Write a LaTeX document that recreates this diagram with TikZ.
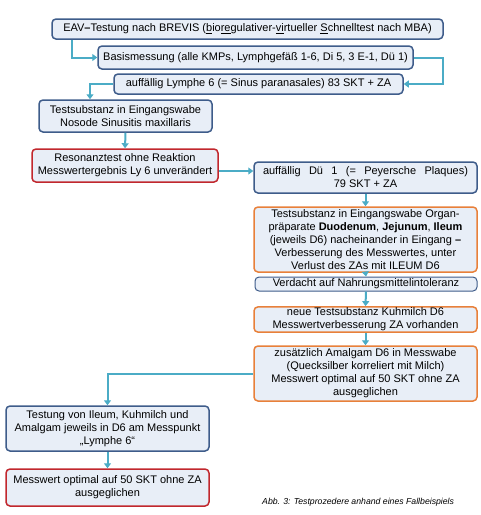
\documentclass[tikz,border=0pt]{standalone}
\usepackage{fontspec}
\setmainfont{Liberation Sans}
\usepackage{xcolor}
\usetikzlibrary{arrows.meta,positioning,calc}
\definecolor{boxblue}{HTML}{3E5C8A}
\definecolor{boxred}{HTML}{C1272D}
\definecolor{boxorange}{HTML}{E8803A}
\definecolor{boxfill}{HTML}{E8EEF7}
\definecolor{conncol}{HTML}{4BACC6}
\tikzset{
  stepbox/.style={draw=boxblue, fill=boxfill, line width=1.5pt, rounded corners=4pt,
    inner sep=1pt, align=center, font=\fontsize{11}{13}\selectfont},
  bluebox/.style={stepbox},
  redbox/.style={stepbox, draw=boxred},
  orangebox/.style={stepbox, draw=boxorange},
  conn/.style={draw=conncol, line width=2pt, -{Triangle[width=7pt,length=5pt]}}
}
\newcommand{\ul}[1]{\underline{#1}}
\begin{document}
\begin{tikzpicture}[x=1pt,y=-1pt]
  \useasboundingbox (0,0) rectangle (481,515);
  \node[bluebox, minimum width=391pt, minimum height=20pt] (eav) at (247.5,29)
    {EAV\textbf{--}Testung nach BREVIS (\ul{b}io\ul{re}gulativer-\ul{vi}rtueller \ul{S}chnelltest nach MBA)};
  \node[bluebox, minimum width=315pt, minimum height=23pt] (basis) at (255.5,57.5)
    {Basismessung (alle KMPs, Lymphgefäß 1-6, Di 5, 3 E-1, Dü 1)};
  \node[bluebox, minimum width=289pt, minimum height=20pt] (lymphe) at (258.5,84)
    {auffällig Lymphe 6 (= Sinus paranasales) 83 SKT + ZA};
  \node[bluebox, minimum width=173pt, minimum height=32pt] (nosode) at (125.5,116)
    {Testsubstanz in Eingangswabe\\Nosode Sinusitis maxillaris};
  \node[redbox, minimum width=186pt, minimum height=33pt] (resonanz) at (125,165.5)
    {Resonanztest ohne Reaktion\\Messwertergebnis Ly 6 unverändert};
  \node[bluebox, minimum width=223pt, minimum height=31pt] (due) at (365.5,177.5)
    {\makebox[205pt][s]{auffällig Dü 1 (= Peyersche Plaques)}\\79 SKT + ZA};
  \node[orangebox, minimum width=223pt, minimum height=65pt] (organ) at (365.5,239.5)
    {Testsubstanz in Eingangswabe Organ-\\präparate \textbf{Duodenum}, \textbf{Jejunum}, \textbf{Ileum}\\
     (jeweils D6) nacheinander in Eingang \textbf{--}\\Verbesserung des Messwertes, unter\\
     Verlust des ZAs mit ILEUM D6};
  \node[bluebox, line width=1pt, inner sep=0pt, minimum width=222pt, minimum height=14pt] (verdacht) at (366,284)
    {Verdacht auf Nahrungsmittelintoleranz};
  \node[orangebox, minimum width=223pt, minimum height=25pt] (milch) at (365.5,319.5)
    {neue Testsubstanz Kuhmilch D6\\Messwertverbesserung ZA vorhanden};
  \node[orangebox, minimum width=223pt, minimum height=55pt] (amalgam) at (365.5,373.5)
    {zusätzlich Amalgam D6 in Messwabe\\(Quecksilber korreliert mit Milch)\\
     Messwert optimal auf 50 SKT ohne ZA\\ausgeglichen};
  \node[bluebox, minimum width=203pt, minimum height=45pt] (testung) at (107.5,428.5)
    {Testung von Ileum, Kuhmilch und\\Amalgam jeweils in D6 am Messpunkt\\„Lymphe 6“};
  \node[redbox, minimum width=203pt, minimum height=37pt] (ergebnis) at (107.5,487.5)
    {Messwert optimal auf 50 SKT ohne ZA\\ausgeglichen};
  \node[font=\fontsize{8.7}{10}\selectfont\itshape, anchor=west, inner sep=0pt] (caption) at (262,502)
    {Abb. 3: Testprozedere anhand eines Fallbeispiels};

  \draw[conn] ([xshift=21pt]eav.south west) |- (basis.west);
  \draw[conn] (basis.east) -- ++(29,0) |- (lymphe.east);
  \draw[conn] (lymphe.west) -| ([xshift=-35.5pt]nosode.north);
  \draw[conn] (nosode.south) -- (resonanz.north);
  \draw[conn] ([yshift=-5.5pt]resonanz.east) -- ([yshift=6.5pt]due.west);
  \draw[conn] (due.south) -- (organ.north);
  \draw[conn] (organ.south) -- (verdacht.north);
  \draw[conn] (verdacht.south) -- (milch.north);
  \draw[conn] (milch.south) -- (amalgam.north);
  \draw[conn] (amalgam.west) -| (testung.north);
  \draw[conn] (testung.south) -- (ergebnis.north);
\end{tikzpicture}
\end{document}
